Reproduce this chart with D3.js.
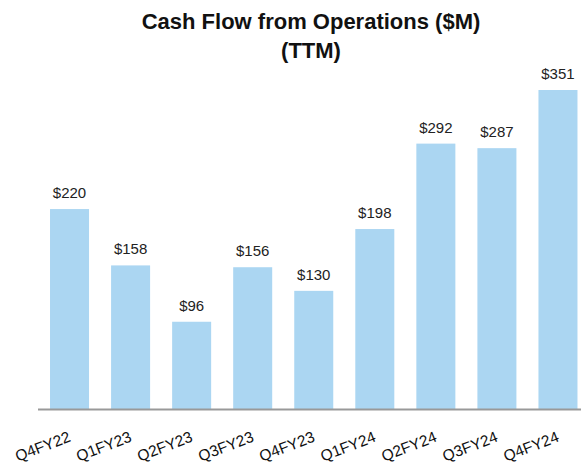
<!DOCTYPE html>
<html>
<head>
<meta charset="utf-8">
<script src="https://cdn.jsdelivr.net/npm/d3@7"></script>
<style>
  html, body { margin: 0; padding: 0; background: #fff; }
  svg { display: block; }
</style>
</head>
<body>
<svg id="chart" width="583" height="470"></svg>
<script>
const titleLines = ["Cash Flow from Operations ($M)", "(TTM)"];
const categories = ["Q4FY22", "Q1FY23", "Q2FY23", "Q3FY23", "Q4FY23", "Q1FY24", "Q2FY24", "Q3FY24", "Q4FY24"];
const values = [220, 158, 96, 156, 130, 198, 292, 287, 351];
const valueLabels = ["$220", "$158", "$96", "$156", "$130", "$198", "$292", "$287", "$351"];

const svg = d3.select("#chart");
const font = "Liberation Sans, Arial, Helvetica, sans-serif";

const x = d3.scaleBand()
  .domain(categories)
  .range([38, 589.5])
  .paddingInner(0.361)
  .paddingOuter(0.197);

const y = d3.scaleLinear()
  .domain([0, 351])
  .range([409, 90]);

// title
svg.append("g")
  .selectAll("text")
  .data(titleLines)
  .join("text")
  .attr("x", 311)
  .attr("y", (d, i) => 29 + i * 29)
  .attr("text-anchor", "middle")
  .attr("font-family", font)
  .attr("font-weight", "bold")
  .attr("font-size", 22)
  .attr("fill", "#111")
  .text(d => d);

// bars
svg.append("g")
  .selectAll("rect")
  .data(values)
  .join("rect")
  .attr("x", (d, i) => x(categories[i]))
  .attr("y", d => y(d))
  .attr("width", x.bandwidth())
  .attr("height", d => y(0) - y(d))
  .attr("fill", "#abd6f2");

// value labels
svg.append("g")
  .selectAll("text")
  .data(values)
  .join("text")
  .attr("x", (d, i) => x(categories[i]) + x.bandwidth() / 2)
  .attr("y", d => y(d) - 11)
  .attr("text-anchor", "middle")
  .attr("font-family", font)
  .attr("font-size", 15)
  .attr("fill", "#222")
  .text((d, i) => valueLabels[i]);

// x axis
const xAxis = d3.axisBottom(x).tickSize(0).tickPadding(0);
const gx = svg.append("g")
  .attr("transform", `translate(0,${y(0)})`)
  .call(xAxis);
gx.select(".domain").remove();
gx.append("line")
  .attr("x1", 38).attr("x2", 581)
  .attr("y1", 0.5).attr("y2", 0.5)
  .attr("stroke", "#999")
  .attr("stroke-width", 2);
gx.selectAll(".tick text")
  .attr("font-family", font)
  .attr("font-size", 15.5)
  .attr("fill", "#111")
  .attr("text-anchor", "end")
  .attr("dy", null)
  .attr("y", 0)
  .attr("transform", "translate(2,32) rotate(-21)");
</script>
</body>
</html>
